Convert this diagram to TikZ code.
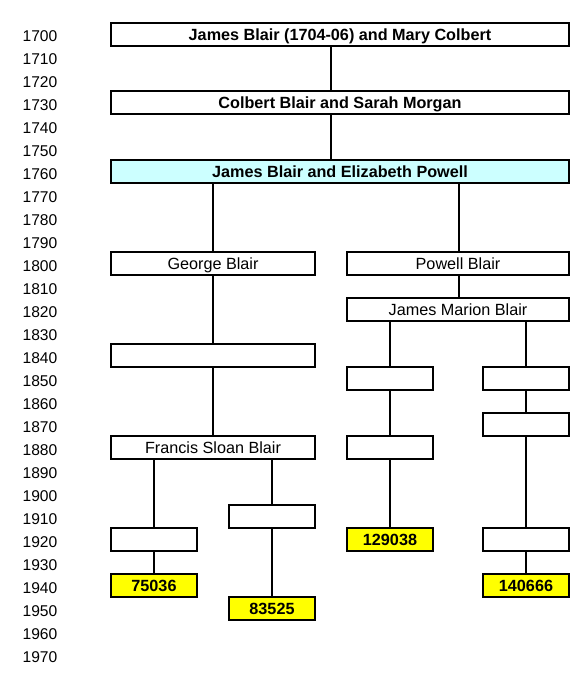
\documentclass[tikz,border=0pt]{standalone}
\usepackage{fontspec}
\setmainfont{Liberation Sans}
\definecolor{lcyan}{HTML}{CCFFFF}
\definecolor{yel}{HTML}{FFFF00}
\begin{document}
\begin{tikzpicture}[x=1pt,y=-1pt,
  box/.style={draw=black,line width=2pt,fill=white,inner sep=0pt,outer sep=0pt,minimum height=23pt,text height=1.3em,text depth=0.1em,font=\fontsize{16.2}{19}\selectfont},
  wide/.style={box,minimum width=458pt,font=\fontsize{16.2}{19}\selectfont\bfseries},
  mid/.style={box,minimum width=204pt},
  midr/.style={box,minimum width=222pt},
  small/.style={box,minimum width=86pt},
  num/.style={small,fill=yel,font=\fontsize{16.2}{19}\selectfont\bfseries},
  conn/.style={line width=2pt},
  yr/.style={font=\fontsize{15.6}{18}\selectfont,inner sep=0pt,text height=1.3em,text depth=0.1em}]
\useasboundingbox (0,0) rectangle (586,688);
\fill[white] (0,0) rectangle (586,688);
\foreach \i in {0,...,27}{
  \pgfmathtruncatemacro{\yy}{1700+10*\i}
  \node[yr] (y\i) at (40,35+23*\i) {\yy};
}
\node[wide] (b1) at (340,34.5) {James Blair (1704-06) and Mary Colbert};
\node[wide] (b2) at (340,102.5) {Colbert Blair and Sarah Morgan};
\node[wide,fill=lcyan] (b3) at (340,171.5) {James Blair and Elizabeth Powell};
\node[mid] (george) at (213,263.5) {George Blair};
\node[midr] (powell) at (458,263.5) {Powell Blair};
\node[midr] (jmb) at (458,309.5) {James Marion Blair};
\node[mid] (e1) at (213,355.5) {};
\node[small] (e2) at (390,378.5) {};
\node[small] (e3) at (526,378.5) {};
\node[small] (e4) at (526,424.5) {};
\node[mid] (francis) at (213,447.5) {Francis Sloan Blair};
\node[small] (e5) at (390,447.5) {};
\node[small] (e6) at (272,516.5) {};
\node[small] (e7) at (154,539.5) {};
\node[num] (n129) at (390,539.5) {129038};
\node[small] (e8) at (526,539.5) {};
\node[num] (n750) at (154,585.5) {75036};
\node[num] (n140) at (526,585.5) {140666};
\node[num] (n835) at (272,608.5) {83525};
\begin{scope}[conn]
\draw ([xshift=-9pt]b1.south) -- ([xshift=-9pt]b2.north);
\draw ([xshift=-9pt]b2.south) -- ([xshift=-9pt]b3.north);
\draw (george.north |- b3.south) -- (george.north);
\draw ([xshift=1pt]powell.north |- b3.south) -- ([xshift=1pt]powell.north);
\draw ([xshift=1pt]powell.south) -- ([xshift=1pt]jmb.north);
\draw (e2.north |- jmb.south) -- (e2.north);
\draw (e3.north |- jmb.south) -- (e3.north);
\draw (george.south) -- (e1.north);
\draw (e1.south) -- (francis.north);
\draw (e2.south) -- (e5.north);
\draw (e5.south) -- (n129.north);
\draw (e3.south) -- (e4.north);
\draw (e4.south) -- (e8.north);
\draw (e8.south) -- (n140.north);
\draw (e7.north |- francis.south) -- (e7.north);
\draw (e7.south) -- (n750.north);
\draw (e6.north |- francis.south) -- (e6.north);
\draw (e6.south) -- (n835.north);
\end{scope}
\end{tikzpicture}
\end{document}
